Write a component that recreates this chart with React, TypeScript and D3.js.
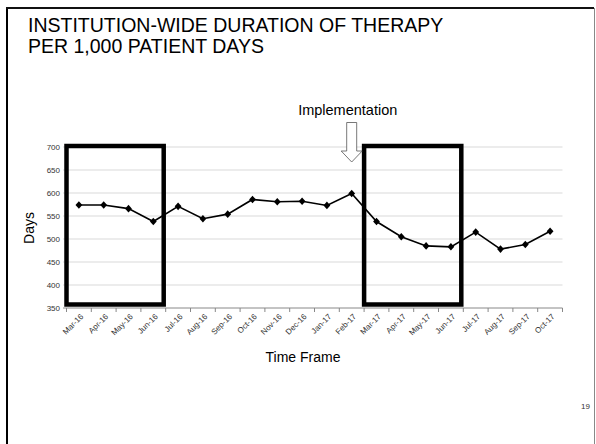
import React from "react";
import * as d3 from "d3";

const categories = ["Mar-16","Apr-16","May-16","Jun-16","Jul-16","Aug-16","Sep-16","Oct-16","Nov-16","Dec-16","Jan-17","Feb-17","Mar-17","Apr-17","May-17","Jun-17","Jul-17","Aug-17","Sep-17","Oct-17"];
const values = [574,574,566,538,571,544,554,586,581,582,573,599,538,505,485,483,515,478,488,517];
const yTicks = [350,400,450,500,550,600,650,700];
const boxes: [string, string][] = [["Mar-16","Jun-16"],["Mar-17","Jun-17"]];
const implementationAt = "Feb-17";

export default function App() {
  const W = 596, H = 444;
  const x = d3.scaleBand<string>().domain(categories).range([66.5, 562.5]).padding(0);
  const y = d3.scaleLinear().domain([350, 700]).range([308, 147]);
  const cx = (c: string) => (x(c) as number) + x.bandwidth() / 2;
  const line = d3.line<number>().x((_, i) => cx(categories[i])).y(v => y(v));
  const diamond = "M0,-3.8L3.4,0L0,3.8L-3.4,0Z";
  const ax = cx(implementationAt);
  const font = "Liberation Sans, Arial, sans-serif";
  return (
    <svg width={W} height={H} style={{ position: "absolute", left: 0, top: 0, background: "#fff" }} fontFamily={font}>
      {/* slide frame */}
      <line x1={7} y1={8} x2={7} y2={H + 2} stroke="#000" strokeWidth={2} />
      <line x1={6} y1={8} x2={594} y2={8} stroke="#111" strokeWidth={2} />
      <line x1={594.5} y1={8} x2={594.5} y2={H + 2} stroke="#888" strokeWidth={1} />
      {/* title */}
      <text x={28} y={32} fontSize={19.5} fill="#000">INSTITUTION-WIDE DURATION OF THERAPY</text>
      <text x={28} y={53} fontSize={19.5} fill="#000">PER 1,000 PATIENT DAYS</text>
      {/* gridlines */}
      {yTicks.filter(t => t > 350).map(t => (
        <line key={t} x1={63} x2={562.5} y1={y(t)} y2={y(t)} stroke="#d9d9d9" strokeWidth={1} />
      ))}
      {/* x axis */}
      <line x1={63} x2={562.5} y1={y(350)} y2={y(350)} stroke="#888" strokeWidth={1} />
      {categories.map(c => (
        <line key={"t" + c} x1={x(c) as number} x2={x(c) as number} y1={y(350)} y2={y(350) + 4} stroke="#888" />
      ))}
      <line x1={562.5} x2={562.5} y1={y(350)} y2={y(350) + 4} stroke="#888" />
      {/* y tick labels */}
      {yTicks.map(t => (
        <text key={"y" + t} x={60} y={y(t)} dy="0.35em" textAnchor="end" fontSize={8} fill="#333">{t}</text>
      ))}
      {/* x tick labels */}
      {categories.map(c => (
        <text key={"x" + c} transform={`translate(${cx(c) + 3},${y(350) + 7}) rotate(-45)`} textAnchor="end" dy="0.35em" fontSize={8} fill="#333">{c}</text>
      ))}
      {/* axis titles */}
      <text transform={`translate(34,228) rotate(-90)`} textAnchor="middle" fontSize={14} fill="#000">Days</text>
      <text x={303} y={362} textAnchor="middle" fontSize={14} fill="#000">Time Frame</text>
      {/* line + markers */}
      <path d={line(values) || ""} fill="none" stroke="#000" strokeWidth={1.6} />
      {values.map((v, i) => (
        <path key={"m" + i} d={diamond} transform={`translate(${cx(categories[i])},${y(v)})`} fill="#000" />
      ))}
      {/* highlight boxes */}
      {boxes.map(([a, b]) => (
        <rect key={a} x={(x(a) as number)} y={146} width={(x(b) as number) + x.bandwidth() - (x(a) as number) - 2} height={158.5} fill="none" stroke="#000" strokeWidth={4.5} />
      ))}
      {/* implementation arrow */}
      <text x={ax - 4} y={115} textAnchor="middle" fontSize={14.5} fill="#000">Implementation</text>
      <path d={`M${ax - 5},122.5 L${ax + 5},122.5 L${ax + 5},151 L${ax + 10.5},151 L${ax},162 L${ax - 10.5},151 L${ax - 5},151 Z`} fill="#fff" stroke="#555" strokeWidth={0.8} />
      {/* page number */}
      <text x={590} y={408.5} textAnchor="end" fontSize={8} fill="#333">19</text>
    </svg>
  );
}
